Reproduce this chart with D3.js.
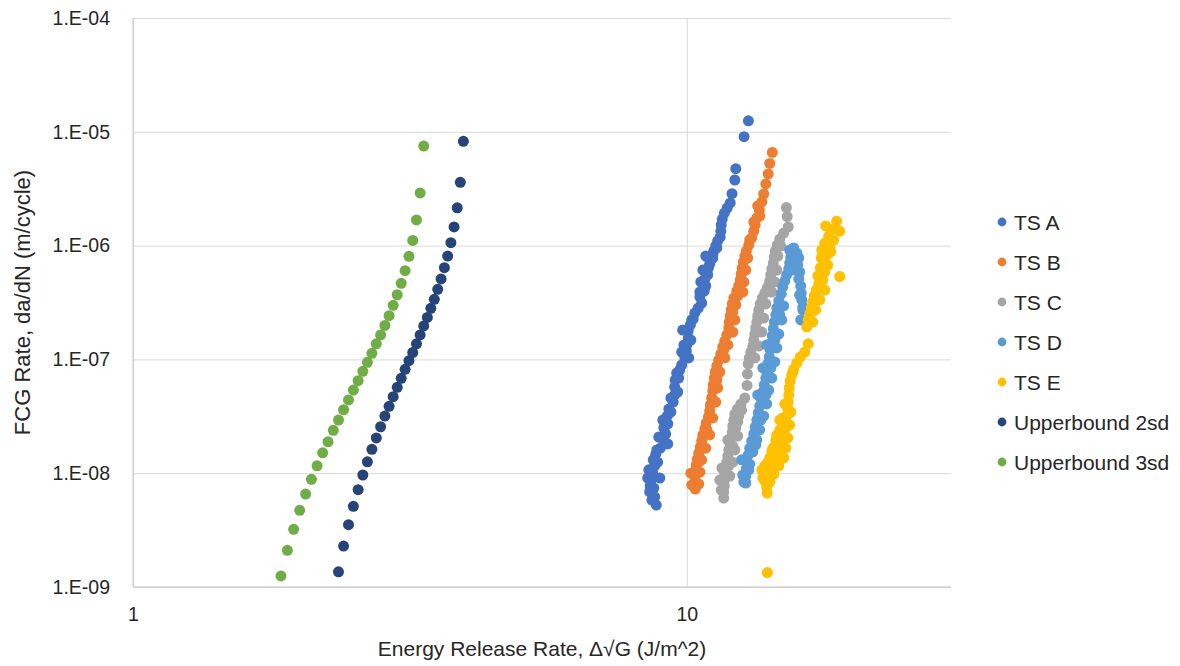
<!DOCTYPE html>
<html>
<head>
<meta charset="utf-8">
<script src="https://cdn.jsdelivr.net/npm/d3@7"></script>
<style>
  body { margin: 0; background: #fff; }
  svg { display: block; }
  text { font-family: "Liberation Sans", Arial, sans-serif; fill: #262626; }
</style>
</head>
<body>
<svg id="chart" width="1180" height="666"></svg>
<script>
// ---- Data: [energy release rate, da/dN] ----
const tsA = [[12.92,1.25e-5],[12.69,9.06e-6],[12.26,4.74e-6],[12.21,3.77e-6],[12.07,2.86e-6],[11.98,2.37e-6],[11.83,2.14e-6],[11.69,1.93e-6],[11.59,1.71e-6],[11.54,1.52e-6],[11.52,1.34e-6],[11.49,1.19e-6],[11.37,1.10e-6],[11.28,9.92e-7],[11.19,8.96e-7],[11.12,8.27e-7],[11.07,7.62e-7],[11.00,6.89e-7],[10.94,6.36e-7],[10.84,5.74e-7],[10.78,5.09e-7],[10.73,4.51e-7],[10.75,3.99e-7],[10.64,3.13e-7],[10.49,2.83e-7],[10.34,2.56e-7],[10.27,2.26e-7],[10.15,2.01e-7],[10.06,1.78e-7],[10.06,1.54e-7],[10.00,1.34e-7],[9.98,1.19e-7],[9.92,1.03e-7],[9.79,8.93e-8],[9.59,7.60e-8],[9.53,6.59e-8],[9.51,5.72e-8],[9.51,4.87e-8],[9.45,4.22e-8],[9.28,3.66e-8],[9.22,3.18e-8],[9.24,2.71e-8],[9.16,2.21e-8],[9.09,1.92e-8],[8.96,1.66e-8],[8.79,1.47e-8],[8.70,1.31e-8],[8.75,1.16e-8],[8.68,1.00e-8],[8.63,8.71e-9],[8.59,7.72e-9],[8.57,6.84e-9],[8.75,6.18e-9],[8.81,5.25e-9],
  [10.96,7.78e-7],[10.56,3.54e-7],[10.21,2.22e-7],[9.88,1.34e-7],[9.71,8.07e-8],[9.36,4.58e-8],[9.05,2.93e-8],[8.90,2.08e-8],[8.54,1.07e-8],[8.94,9.07e-9],
  [10.82,8.10e-7],[10.69,6.10e-7],[10.60,4.79e-7],[10.56,3.91e-7],[11.33,9.53e-7],[11.14,7.78e-7],[10.91,5.52e-7],[10.82,4.42e-7],[9.83,1.81e-7],[10.17,1.48e-7],[9.79,1.16e-7],[10.08,1.03e-7],[9.67,6.86e-8],[9.63,5.17e-8],[9.36,3.45e-8],[9.09,2.50e-8],[9.24,1.81e-8],[8.83,1.60e-8],[8.86,1.25e-8],[8.50,9.07e-9],[8.72,7.41e-9],[8.65,5.81e-9]];

const tsB = [[14.27,6.58e-6],[14.12,5.27e-6],[14.03,4.26e-6],[13.89,3.48e-6],[13.77,2.84e-6],[13.66,2.42e-6],[13.52,2.05e-6],[13.38,1.75e-6],[13.29,1.52e-6],[13.21,1.34e-6],[13.10,1.17e-6],[12.94,1.01e-6],[12.81,8.96e-7],[12.73,8.10e-7],[12.65,7.18e-7],[12.59,6.36e-7],[12.54,5.63e-7],[12.49,4.99e-7],[12.41,4.42e-7],[12.31,3.99e-7],[12.16,3.46e-7],[12.08,3.07e-7],[12.03,2.72e-7],[11.98,2.41e-7],[11.93,2.13e-7],[11.91,1.89e-7],[11.81,1.64e-7],[11.71,1.45e-7],[11.61,1.29e-7],[11.52,1.12e-7],[11.42,9.88e-8],[11.33,8.75e-8],[11.26,7.75e-8],[11.21,6.86e-8],[11.16,5.96e-8],[11.14,5.28e-8],[11.09,4.58e-8],[11.03,3.97e-8],[11.00,3.52e-8],[10.94,3.12e-8],[10.84,2.76e-8],[10.78,2.45e-8],[10.69,2.17e-8],[10.64,1.92e-8],[10.58,1.70e-8],[10.51,1.50e-8],[10.45,1.33e-8],[10.40,1.18e-8],[10.36,1.05e-8],[10.34,9.26e-9],[10.34,8.20e-9],[10.36,7.26e-9],
  [13.54,1.82e-6],[12.36,3.61e-7],[12.11,2.61e-7],[11.66,1.21e-7],[11.33,6.59e-8],[10.87,2.40e-8],[10.51,1.25e-8],[10.21,7.88e-9],
  [13.43,2.23e-6],[13.21,1.61e-6],[12.99,1.12e-6],[12.88,7.78e-7],[12.78,6.10e-7],[12.68,4.79e-7],[12.62,3.91e-7],[12.26,3.01e-7],[12.21,2.22e-7],[12.11,1.74e-7],[11.86,1.34e-7],[11.71,1.03e-7],[11.47,7.75e-8],[11.37,5.61e-8],[11.28,4.22e-8],[11.14,3.06e-8],[11.00,2.17e-8],[10.82,1.66e-8],[10.64,1.31e-8],[10.56,1.02e-8],[10.51,8.04e-9],[10.17,1.00e-8]];

const tsC = [[15.13,2.16e-6],[15.18,1.80e-6],[15.25,1.46e-6],[14.96,1.29e-6],[14.72,1.14e-6],[14.57,1.01e-6],[14.45,8.96e-7],[14.39,7.94e-7],[14.33,7.03e-7],[14.24,6.23e-7],[14.18,5.52e-7],[14.12,4.89e-7],[13.97,4.24e-7],[13.83,3.83e-7],[13.69,3.46e-7],[13.57,3.07e-7],[13.49,2.72e-7],[13.43,2.41e-7],[13.38,2.13e-7],[13.32,1.89e-7],[13.27,1.67e-7],[13.21,1.48e-7],[13.16,1.31e-7],[13.05,1.16e-7],[12.97,1.03e-7],[12.91,9.11e-8],[12.87,7.44e-8],[12.85,5.90e-8],[12.73,4.58e-8],[12.52,4.06e-8],[12.34,3.66e-8],[12.21,3.31e-8],[12.16,2.93e-8],[12.11,2.60e-8],[12.08,2.30e-8],[12.03,2.04e-8],[11.98,1.81e-8],[11.91,1.60e-8],[11.86,1.42e-8],[11.81,1.25e-8],[11.76,1.11e-8],[11.71,9.84e-9],[11.69,8.71e-9],[11.69,7.72e-9],[11.66,6.84e-9],[11.66,6.05e-9],
  [14.06,4.42e-7],[12.41,3.18e-8],[12.26,2.50e-8],[12.11,1.73e-8],[11.91,1.16e-8],[11.54,7.12e-9],
  [14.78,9.92e-7],[14.60,8.10e-7],[14.54,6.10e-7],[14.42,4.79e-7],[14.24,3.91e-7],[13.89,3.07e-7],[13.77,2.31e-7],[13.66,1.74e-7],[13.49,1.31e-7],[13.27,1.03e-7],[12.56,3.59e-8],[12.36,2.82e-8],[12.36,2.12e-8],[12.21,1.60e-8],[12.11,1.25e-8],[11.96,9.45e-9],[11.47,8.71e-9],[11.57,1.11e-8],[11.86,1.96e-8]];

const tsD = [[15.54,8.96e-7],[15.80,8.61e-7],[15.41,7.94e-7],[15.73,7.47e-7],[15.34,7.03e-7],[15.86,6.75e-7],[15.28,6.23e-7],[15.99,5.86e-7],[15.15,5.52e-7],[15.93,5.09e-7],[15.03,4.89e-7],[16.06,4.42e-7],[14.90,4.33e-7],[16.09,3.83e-7],[14.81,3.76e-7],[16.13,3.33e-7],[16.20,2.89e-7],[16.06,2.22e-7],[14.66,3.26e-7],[14.54,2.83e-7],[14.48,2.46e-7],[14.39,2.13e-7],[14.33,1.85e-7],[14.27,1.61e-7],[14.21,1.39e-7],[14.15,1.21e-7],[14.09,1.05e-7],[14.00,9.11e-8],[13.94,7.91e-8],[13.89,6.86e-8],[13.80,5.96e-8],[13.72,5.17e-8],[13.63,4.49e-8],[13.54,3.89e-8],[13.46,3.38e-8],[13.38,2.93e-8],[13.29,2.55e-8],[13.21,2.21e-8],[13.10,1.92e-8],[12.99,1.66e-8],[12.91,1.45e-8],[12.86,1.25e-8],[12.81,1.09e-8],[12.78,9.45e-9],[12.78,8.20e-9],
  [14.72,2.46e-7],[14.42,1.48e-7],[14.18,8.41e-8],[13.89,4.87e-8],[13.60,2.93e-8],[13.32,1.77e-8],[12.94,1.07e-8],
  [14.96,2.95e-7],[14.84,2.22e-7],[14.66,1.67e-7],[14.54,1.26e-7],[14.42,9.51e-8],[14.24,6.86e-8],[14.06,5.38e-8],[13.94,4.06e-8],[13.77,3.18e-8],[13.54,2.40e-8],[13.38,1.96e-8],[13.16,1.54e-8],[12.99,1.20e-8],[12.56,1.31e-8],[12.62,9.64e-9],[12.68,8.37e-9],[13.94,1.34e-7],[13.72,8.41e-8],[13.43,4.87e-8],
  [15.60,9.53e-7],[15.93,7.78e-7],[15.54,6.10e-7],[15.34,9.15e-7],[16.20,2.72e-7],[15.99,3.68e-7]];

const tsE = [[18.65,1.64e-6],[18.89,1.34e-6],[18.35,1.40e-6],[18.04,1.21e-6],[18.42,1.12e-6],[17.75,1.05e-6],[18.12,9.72e-7],[17.53,9.15e-7],[17.89,8.27e-7],[17.49,7.78e-7],[17.67,7.03e-7],[17.42,6.36e-7],[17.75,5.86e-7],[17.60,4.99e-7],[17.31,4.60e-7],[17.13,4.07e-7],[16.99,3.61e-7],[16.88,3.19e-7],[16.78,2.83e-7],[16.67,2.51e-7],[16.57,2.22e-7],[16.47,1.93e-7],[18.89,5.35e-7],[16.57,1.37e-7],[16.33,1.16e-7],[16.03,1.05e-7],[15.80,9.30e-8],[15.60,8.23e-8],[15.47,7.29e-8],[15.37,6.46e-8],[15.31,5.61e-8],[15.28,4.87e-8],[15.25,4.22e-8],[15.22,3.66e-8],[15.15,3.18e-8],[15.09,2.76e-8],[15.03,2.40e-8],[14.94,2.08e-8],[14.84,1.84e-8],[14.72,1.63e-8],[14.60,1.45e-8],[14.45,1.31e-8],[14.27,1.18e-8],[14.09,1.07e-8],[13.92,9.64e-9],[13.83,8.54e-9],[13.94,7.56e-9],[13.97,6.70e-9],[13.98,1.34e-9],
  [14.72,2.93e-8],[14.54,2.17e-8],[14.30,1.66e-8],[14.12,1.36e-8],[13.83,1.16e-8],[14.48,1.77e-8],[14.90,2.50e-8],
  [15.54,7.75e-8],[15.41,3.45e-8],[15.34,2.65e-8],[15.22,2.04e-8],[15.09,1.66e-8],[14.96,1.36e-8],[14.66,1.16e-8],[14.36,9.80e-9],[14.12,8.37e-9],[13.72,9.07e-9],[13.66,1.07e-8],[14.00,1.25e-8],[14.24,1.54e-8],[14.48,1.96e-8],[14.72,2.40e-8],[14.90,3.06e-8],[15.03,4.06e-8],
  [17.82,1.49e-6],[18.19,8.79e-7],[17.97,6.75e-7],[17.24,5.41e-7],[17.75,4.07e-7],[17.38,3.33e-7],[17.09,2.72e-7],[16.88,2.13e-7]];

const ub2sdX = [2.35,2.40,2.45,2.50,2.55,2.60,2.65,2.70,2.75,2.80,2.85,2.90,2.95,3.00,3.05,3.10,3.15,3.20,3.25,3.30,3.35,3.40,3.45,3.50,3.55,3.60,3.65,3.70,3.75,3.80,3.85,3.90,3.95];
const ub2sdY = [1.36e-9,2.29e-9,3.53e-9,5.12e-9,7.16e-9,9.64e-9,1.26e-8,1.62e-8,2.04e-8,2.56e-8,3.18e-8,3.87e-8,4.70e-8,5.69e-8,6.82e-8,8.18e-8,9.74e-8,1.15e-7,1.37e-7,1.64e-7,1.97e-7,2.34e-7,2.81e-7,3.37e-7,4.13e-7,5.09e-7,6.39e-7,8.10e-7,1.06e-6,1.46e-6,2.15e-6,3.60e-6,8.25e-6];

const ub3sdX = [1.85,1.90,1.95,2.00,2.05,2.10,2.15,2.20,2.25,2.30,2.35,2.40,2.45,2.50,2.55,2.60,2.65,2.70,2.75,2.80,2.85,2.90,2.95,3.00,3.05,3.10,3.15,3.20,3.25,3.30,3.35];
const ub3sdY = [1.25e-9,2.10e-9,3.21e-9,4.72e-9,6.56e-9,8.84e-9,1.16e-8,1.51e-8,1.89e-8,2.38e-8,2.93e-8,3.61e-8,4.40e-8,5.38e-8,6.50e-8,7.86e-8,9.43e-8,1.13e-7,1.37e-7,1.64e-7,1.99e-7,2.42e-7,2.99e-7,3.70e-7,4.66e-7,6.02e-7,8.05e-7,1.11e-6,1.68e-6,2.90e-6,7.50e-6];

const seriesNames  = ["TS A","TS B","TS C","TS D","TS E","Upperbound 2sd","Upperbound 3sd"];
const seriesColors = ["#4472C4","#ED7D31","#A5A5A5","#5B9BD5","#FFC000","#264478","#70AD47"];

const xTicks = [1, 10];
const yTicks = [1e-9, 1e-8, 1e-7, 1e-6, 1e-5, 1e-4];
const xDomain = [1, 30];
const yDomain = [1e-9, 1e-4];

const xTitle = "Energy Release Rate, \u0394\u221AG (J/m^2)";
const yTitle = "FCG Rate, da/dN (m/cycle)";

// ---- Layout ----
const plot = { left: 133, right: 951, top: 18, bottom: 587 };
const svg = d3.select("#chart");

const x = d3.scaleLog().domain(xDomain).range([plot.left, plot.right]);
const y = d3.scaleLog().domain(yDomain).range([plot.bottom, plot.top]);

const sciFmt = d => {
  const e = Math.round(Math.log10(d));
  return "1.E" + (e < 0 ? "-" : "+") + String(Math.abs(e)).padStart(2, "0");
};

// horizontal gridlines + y tick labels
const gy = svg.append("g")
  .attr("transform", `translate(${plot.left},0)`)
  .call(d3.axisLeft(y).tickValues(yTicks).tickFormat(sciFmt)
    .tickSize(-(plot.right - plot.left)).tickPadding(23));
gy.select(".domain").remove();
gy.selectAll(".tick line").attr("stroke", "#d9d9d9").attr("stroke-width", 1);
gy.selectAll(".tick text").attr("font-size", 19.5).attr("fill", "#262626")
  .style("font-family", "'Liberation Sans', Arial, sans-serif");

// vertical gridline at 10 + x tick labels
const gx = svg.append("g")
  .attr("transform", `translate(0,${plot.bottom})`)
  .call(d3.axisBottom(x).tickValues(xTicks).tickFormat(d3.format("d"))
    .tickSize(-(plot.bottom - plot.top)).tickPadding(20));
gx.select(".domain").remove();
gx.selectAll(".tick line").attr("stroke", "#d9d9d9").attr("stroke-width", 1);
gx.selectAll(".tick text").attr("font-size", 19.5).attr("fill", "#262626")
  .style("font-family", "'Liberation Sans', Arial, sans-serif");

// axis lines
svg.append("line").attr("x1", plot.left).attr("x2", plot.left)
  .attr("y1", plot.top).attr("y2", plot.bottom)
  .attr("stroke", "#c6c6c6").attr("stroke-width", 1);
svg.append("line").attr("x1", plot.left).attr("x2", plot.right)
  .attr("y1", plot.bottom).attr("y2", plot.bottom)
  .attr("stroke", "#c6c6c6").attr("stroke-width", 1);

// ---- Series ----
const zipXY = (xs, ys) => xs.map((v, i) => [v, ys[i]]);
const seriesData = [tsA, tsB, tsC, tsD, tsE, zipXY(ub2sdX, ub2sdY), zipXY(ub3sdX, ub3sdY)];

seriesData.forEach((pts, i) => {
  svg.append("g")
    .selectAll("circle")
    .data(pts)
    .join("circle")
    .attr("cx", d => x(d[0]))
    .attr("cy", d => y(d[1]))
    .attr("r", 5.5)
    .attr("fill", seriesColors[i]);
});

// ---- Axis titles ----
svg.append("text")
  .attr("x", (plot.left + plot.right) / 2)
  .attr("y", 656)
  .attr("text-anchor", "middle")
  .attr("font-size", 21)
  .text(xTitle);

svg.append("text")
  .attr("transform", `translate(30,${(plot.top + plot.bottom) / 2}) rotate(-90)`)
  .attr("text-anchor", "middle")
  .attr("font-size", 22)
  .text(yTitle);

// ---- Legend ----
const legend = svg.append("g").attr("transform", "translate(1002,222)");
const rows = legend.selectAll("g").data(seriesNames).join("g")
  .attr("transform", (d, i) => `translate(0,${i * 40})`);
rows.append("circle").attr("r", 4.4).attr("fill", (d, i) => seriesColors[i]);
rows.append("text").attr("x", 12).attr("dy", "0.36em")
  .attr("font-size", 21).text(d => d);
</script>
</body>
</html>
